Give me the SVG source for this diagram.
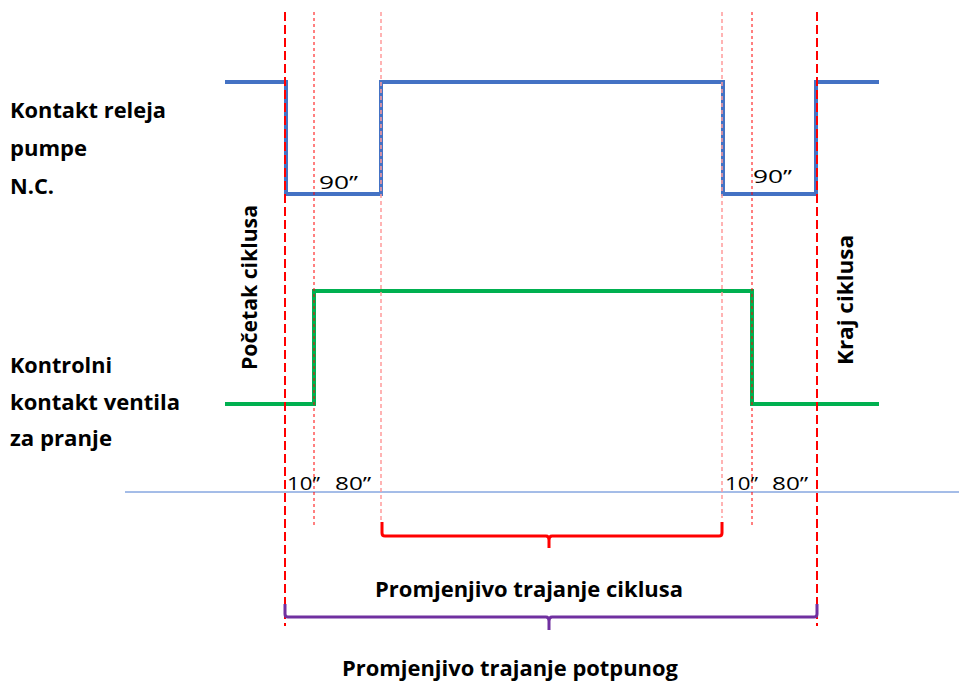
<svg xmlns="http://www.w3.org/2000/svg" width="959" height="684" viewBox="0 0 959 684">
<style>
.lbl{font-family:"Open Sans","Noto Sans","Liberation Sans",sans-serif;font-weight:bold;font-size:21px;fill:#000}
.num{font-family:"Open Sans","Noto Sans","Liberation Sans",sans-serif;font-size:19px;fill:#000}
.sig{fill:none;stroke-width:4;stroke-linejoin:miter}
.mk{fill:none;stroke:#FF0000;stroke-width:2;stroke-dasharray:9 4}
.dot{fill:none;stroke:#FF0000;stroke-width:1;stroke-dasharray:3 3}
.pale{fill:none;stroke:#FF9A9A;stroke-width:1.5;stroke-dasharray:4 3}
.brace{fill:none;stroke-width:3;stroke-linejoin:round}
</style>
<rect width="959" height="684" fill="#fff"/>
<g id="axis">
<line x1="125" y1="492" x2="959" y2="492" stroke="#4A7BD0" stroke-width="1"/>
</g>
<g id="pump-signal">
<polyline class="sig" stroke="#4472C4" points="225,82 286,82 286,194 381,194 381,82 723,82 723,194 816,194 816,82 879,82"/>
</g>
<g id="valve-signal">
<polyline class="sig" stroke="#00B050" points="225,404 314,404 314,291 752,291 752,404 879,404"/>
</g>
<g id="connectors">
<line class="mk" x1="285" y1="12" x2="285" y2="626"/>
<line class="mk" x1="817" y1="12" x2="817" y2="626"/>
<line class="dot" x1="314" y1="12" x2="314" y2="528"/>
<line class="dot" x1="752" y1="12" x2="752" y2="528"/>
<line class="pale" x1="381" y1="12" x2="381" y2="522"/>
<line class="pale" x1="722" y1="12" x2="722" y2="518"/>
</g>
<g id="brace-cycle">
<path class="brace" stroke="#FF0000" d="M382,522 V533 Q382,536 385,536 H546 Q549,536 549,540 V548 M549,540 Q549,536 552,536 H719 Q722,536 722,533 V522"/>
</g>
<g id="brace-full">
<path class="brace" stroke="#7030A0" d="M285,604 V614 Q285,617 288,617 H546 Q549,617 549,621 V630 M549,621 Q549,617 552,617 H814 Q817,617 817,614 V604"/>
</g>
<g id="label-pump">
<text class="lbl" x="10" y="118" textLength="156" lengthAdjust="spacingAndGlyphs">Kontakt releja</text>
<text class="lbl" x="10" y="156" textLength="77" lengthAdjust="spacingAndGlyphs">pumpe</text>
<text class="lbl" x="10" y="194" textLength="44" lengthAdjust="spacingAndGlyphs">N.C.</text>
</g>
<g id="label-valve">
<text class="lbl" x="10" y="373" textLength="102" lengthAdjust="spacingAndGlyphs">Kontrolni</text>
<text class="lbl" x="10" y="410" textLength="170" lengthAdjust="spacingAndGlyphs">kontakt ventila</text>
<text class="lbl" x="10" y="446" textLength="102" lengthAdjust="spacingAndGlyphs">za pranje</text>
</g>
<g id="label-start">
<text class="lbl" transform="translate(257,370) rotate(-90)" x="0" y="0" textLength="165" lengthAdjust="spacingAndGlyphs">Početak ciklusa</text>
</g>
<g id="label-end">
<text class="lbl" transform="translate(853,365) rotate(-90)" x="0" y="0" textLength="130" lengthAdjust="spacingAndGlyphs">Kraj ciklusa</text>
</g>
<g id="times">
<text class="num" x="319" y="189" textLength="39" lengthAdjust="spacingAndGlyphs">90’’</text>
<text class="num" x="753" y="183" textLength="39" lengthAdjust="spacingAndGlyphs">90’’</text>
<text class="num" x="287" y="490" textLength="33" lengthAdjust="spacingAndGlyphs">10’’</text>
<text class="num" x="335" y="490" textLength="36" lengthAdjust="spacingAndGlyphs">80’’</text>
<text class="num" x="725" y="490" textLength="33" lengthAdjust="spacingAndGlyphs">10’’</text>
<text class="num" x="772" y="490" textLength="36" lengthAdjust="spacingAndGlyphs">80’’</text>
</g>
<g id="label-cycle">
<text class="lbl" x="375" y="597" textLength="308" lengthAdjust="spacingAndGlyphs">Promjenjivo trajanje ciklusa</text>
</g>
<g id="label-full">
<text class="lbl" x="342" y="676" textLength="336" lengthAdjust="spacingAndGlyphs">Promjenjivo trajanje potpunog</text>
</g>
</svg>
